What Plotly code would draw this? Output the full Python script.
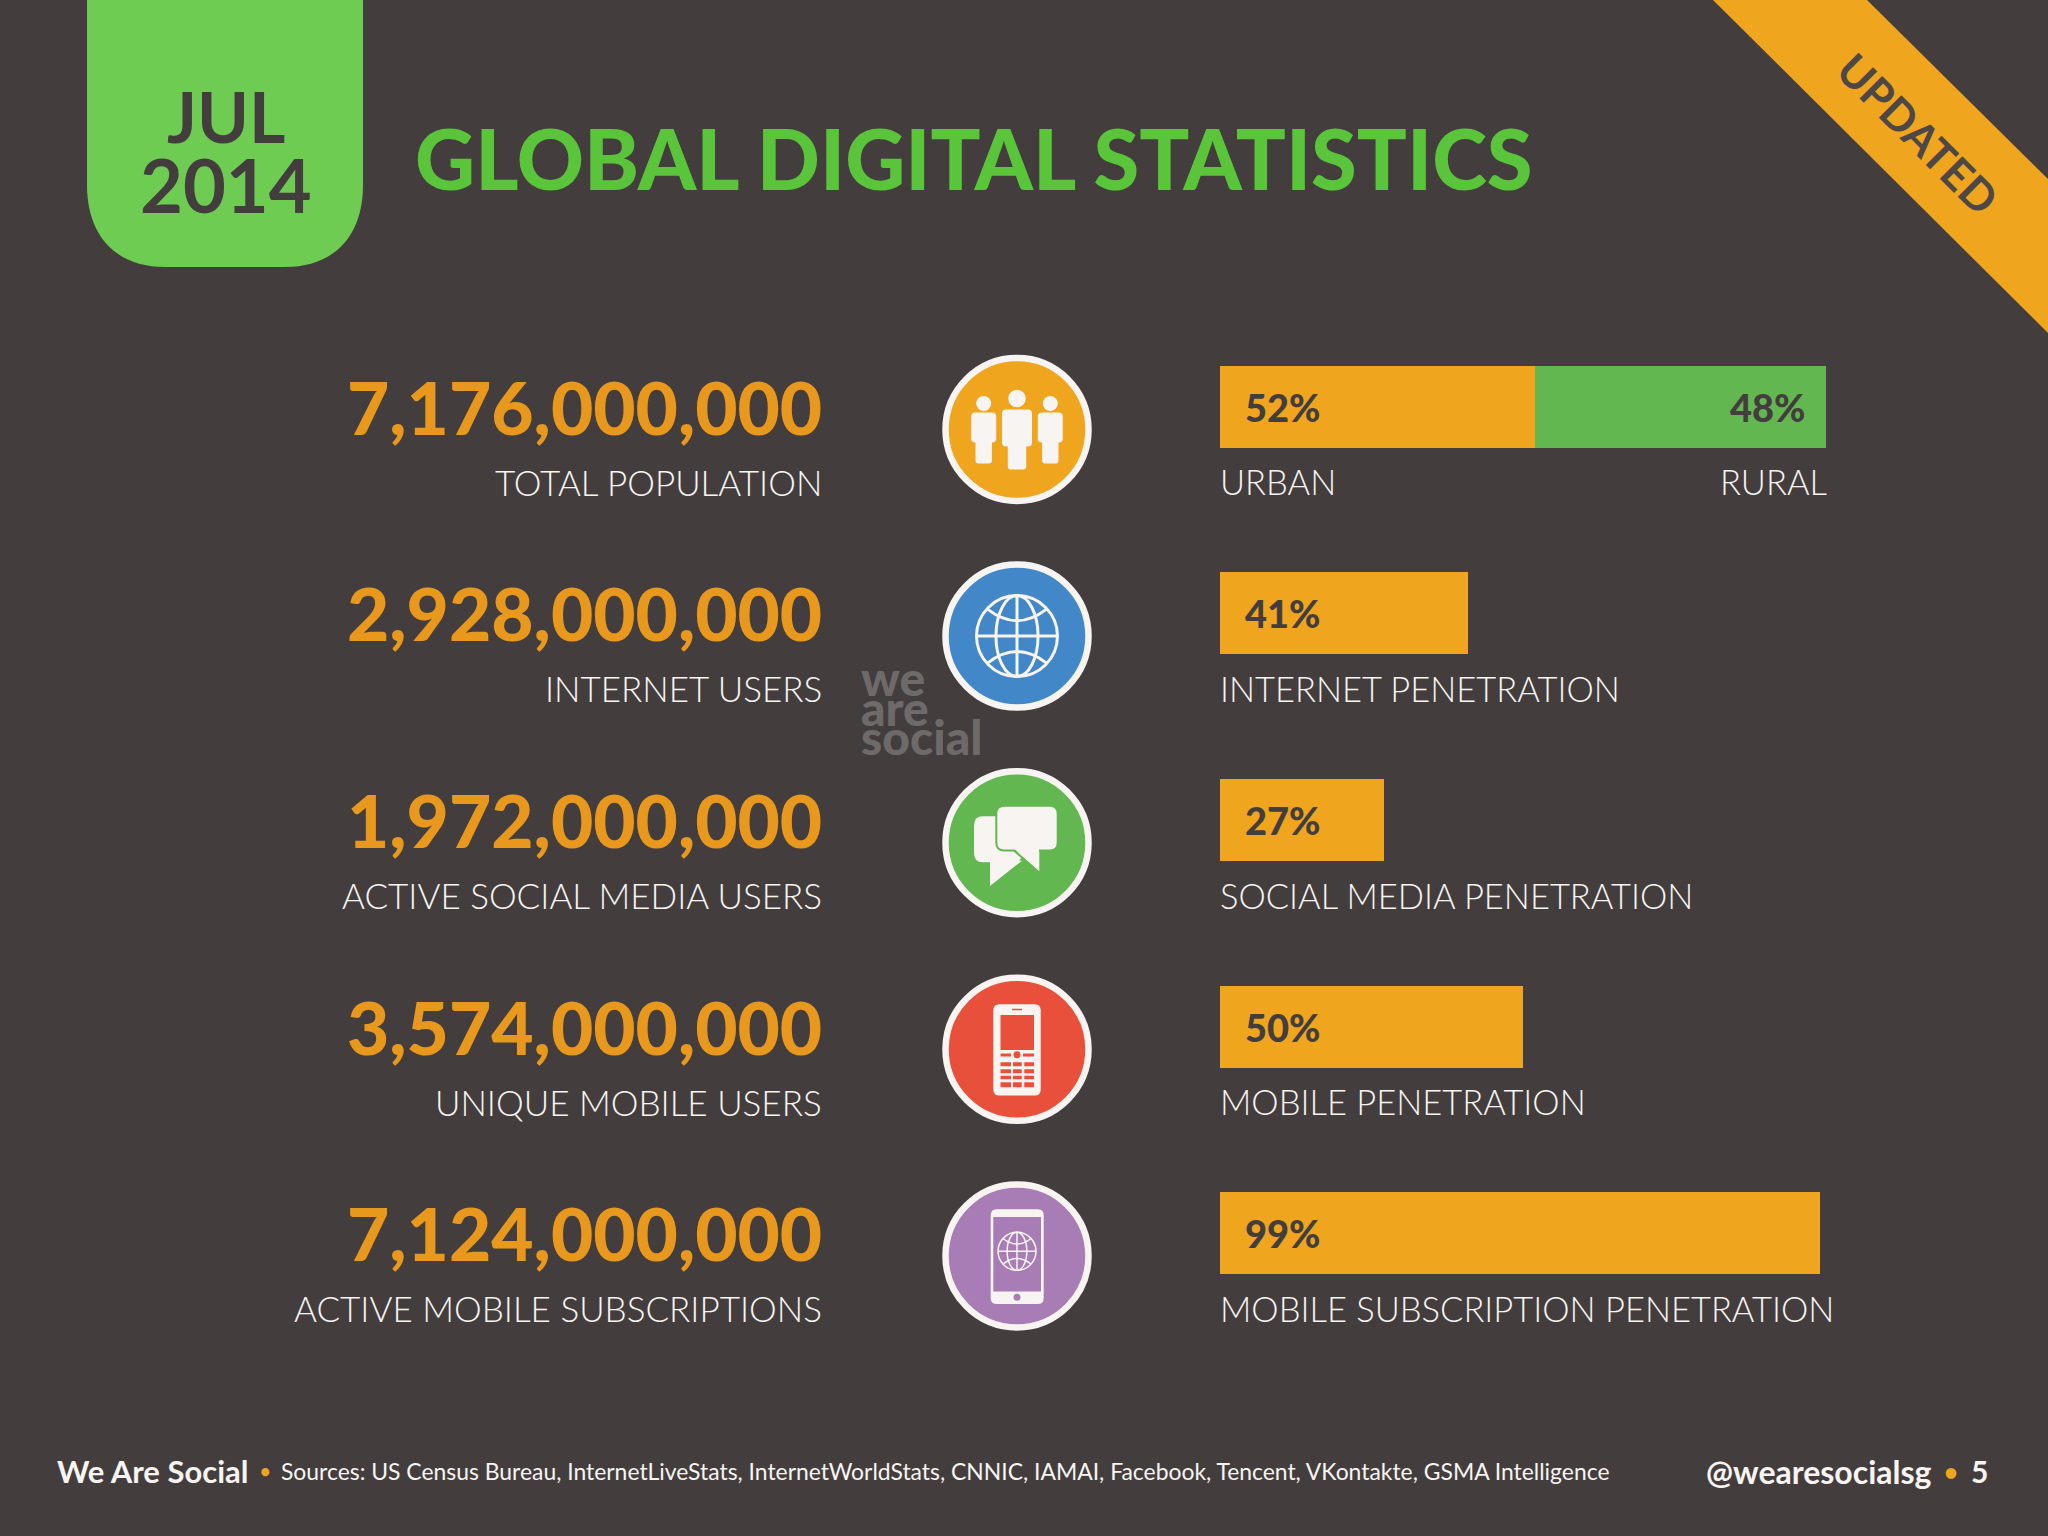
#
# Global digital statistics slide
#
import plotly.graph_objects as go

rows = ["population", "internet", "social", "mobile", "subscriptions"]
big_numbers = ["7,176,000,000", "2,928,000,000", "1,972,000,000", "3,574,000,000", "7,124,000,000"]
left_labels = ["TOTAL POPULATION", "INTERNET USERS", "ACTIVE SOCIAL MEDIA USERS",
               "UNIQUE MOBILE USERS", "ACTIVE MOBILE SUBSCRIPTIONS"]
right_labels = ["URBAN", "INTERNET PENETRATION", "SOCIAL MEDIA PENETRATION",
                "MOBILE PENETRATION", "MOBILE SUBSCRIPTION PENETRATION"]
main_pct = [52, 41, 27, 50, 99]
rural_pct = [48, None, None, None, None]
sources = ("Sources: US Census Bureau, InternetLiveStats, InternetWorldStats, CNNIC, IAMAI, "
           "Facebook, Tencent, VKontakte, GSMA Intelligence")

BG = "#433E3D"
ORANGE = "#F0A51F"
NUM_ORANGE = "#E8981D"
GREEN = "#63B750"
WHITE = "#F7F4F2"
ICON_COLORS = [ORANGE, "#4287C8", GREEN, "#E9503C", "#A87DB5"]

W, H = 2048, 1536
PITCH = 206.6
ROW_TOP = 303.5
CIRCLE_X = 1017
CIRCLE_Y0 = 429.5
CIRCLE_YS = [CIRCLE_Y0 + PITCH * i for i in range(len(rows))]

shapes = []
annotations = []


def text(x, y, s, size, color, anchor="left", weight=400, family="Lato", angle=0, xref="x2", yref="y2", yshift=0, xshift=0):
    annotations.append(dict(x=x, y=y, text=s, xref=xref, yref=yref, showarrow=False, xanchor=anchor,
                            yanchor="middle", textangle=angle, yshift=yshift, xshift=xshift,
                            font=dict(family=family, size=size, color=color, weight=weight)))


def path(d, fill=WHITE, line=None, lw=0):
    shapes.append(dict(type="path", path=d, xref="x2", yref="y2", fillcolor=fill,
                       line=dict(color=line or "rgba(0,0,0,0)", width=lw)))


def rrect(x0, y0, x1, y1, r=3, fill=WHITE, line=None, lw=0):
    d = (f"M{x0+r},{y0} L{x1-r},{y0} Q{x1},{y0} {x1},{y0+r} L{x1},{y1-r} Q{x1},{y1} {x1-r},{y1} "
         f"L{x0+r},{y1} Q{x0},{y1} {x0},{y1-r} L{x0},{y0+r} Q{x0},{y0} {x0+r},{y0} Z")
    path(d, fill, line, lw)


def circle(cx, cy, r, fill=WHITE, line=None, lw=0):
    shapes.append(dict(type="circle", xref="x2", yref="y2", x0=cx-r, x1=cx+r, y0=cy-r, y1=cy+r,
                       fillcolor=fill, line=dict(color=line or "rgba(0,0,0,0)", width=lw)))


def person(cx, cy, dx, head_y, head_r, w, body_top, body_bot, leg_w, leg_bot):
    circle(cx+dx, cy+head_y, head_r)
    rrect(cx+dx-w, cy+body_top, cx+dx+w, cy+body_bot, 4)
    rrect(cx+dx-leg_w, cy+body_bot-6, cx+dx+leg_w, cy+leg_bot, 3)


def globe(cx, cy, r, lw):
    none = "rgba(0,0,0,0)"
    circle(cx, cy, r, none, WHITE, lw)
    circle_rx = r * 0.52
    shapes.append(dict(type="circle", xref="x2", yref="y2", x0=cx-circle_rx, x1=cx+circle_rx, y0=cy-r, y1=cy+r,
                       fillcolor=none, line=dict(color=WHITE, width=lw)))
    path(f"M{cx},{cy-r} L{cx},{cy+r}", none, WHITE, lw)
    path(f"M{cx-r},{cy} L{cx+r},{cy}", none, WHITE, lw)
    path(f"M{cx-r*0.72},{cy-r*0.66} Q{cx},{cy-r*0.1} {cx+r*0.72},{cy-r*0.66}", none, WHITE, lw)
    path(f"M{cx-r*0.72},{cy+r*0.66} Q{cx},{cy+r*0.1} {cx+r*0.72},{cy+r*0.66}", none, WHITE, lw)


# badge and ribbon
path("M87,0 L363,0 L363,185 C363,235 335,267 285,267 L165,267 C115,267 87,235 87,185 Z", "#6ECC52")
path("M1713,0 L1867,0 L2048,179 L2048,333 Z", ORANGE)
text(226, 116, "JUL", 70, BG, "center", 700)
text(226, 184, "2014", 74, BG, "center", 700)
text(413, 158, "GLOBAL DIGITAL STATISTICS", 83, "#5AC43A", "left", 900)
text(1918, 133, "UPDATED", 44, "#4D4745", "center", 700, angle=45)

# icons
cy = CIRCLE_YS[0]
person(CIRCLE_X, cy, 0, -31, 8.8, 15, -20, 17, 9.2, 40)
person(CIRCLE_X, cy, -33.3, -26, 7.5, 12.5, -17, 13, 8.2, 34)
person(CIRCLE_X, cy, 33.3, -26, 7.5, 12.5, -17, 13, 8.2, 34)

globe(CIRCLE_X, CIRCLE_YS[1], 40.5, 3)

cy = CIRCLE_YS[2]
rrect(CIRCLE_X-43, cy-26.4, CIRCLE_X+5, cy+19.5, 9)
path(f"M{CIRCLE_X-27},{cy+15} L{CIRCLE_X-27},{cy+43.3} L{CIRCLE_X+5},{cy+18} Z")
path(f"M{CIRCLE_X-3},{cy+7.7} L{CIRCLE_X+23.3},{cy+30.6} L{CIRCLE_X+23.3},{cy+5} Z", WHITE, GREEN, 2)
rrect(CIRCLE_X-20.7, cy-37, CIRCLE_X+40.7, cy+7.7, 8, WHITE, GREEN, 2)
path(f"M{CIRCLE_X-4},{cy+5} L{CIRCLE_X+22},{cy+5} L{CIRCLE_X+22},{cy+28} Z")

cy = CIRCLE_YS[3]
red = ICON_COLORS[3]
rrect(CIRCLE_X-23.7, cy-45, CIRCLE_X+23.7, cy+46.3, 6)
rrect(CIRCLE_X-16.5, cy-34.4, CIRCLE_X+17, cy+0.8, 0, red)
rrect(CIRCLE_X-5, cy-40.5, CIRCLE_X+5, cy-39, 0, red)
rrect(CIRCLE_X-16.5, cy+4.2, CIRCLE_X-6, cy+7.3, 0, red)
rrect(CIRCLE_X+6, cy+4.2, CIRCLE_X+17, cy+7.3, 0, red)
circle(CIRCLE_X, cy+5.5, 3.5, red)
for top, bot in [(13, 17), (20, 24), (26.5, 30), (33, 38)]:
    for left, right in [(-16.5, -6), (-4, 4.7), (7.3, 17)]:
        rrect(CIRCLE_X+left, cy+top, CIRCLE_X+right, cy+bot, 0, red)

cy = CIRCLE_YS[4]
rrect(CIRCLE_X-26.3, cy-46.7, CIRCLE_X+26.7, cy+48, 6)
rrect(CIRCLE_X-23.7, cy-39, CIRCLE_X+24, cy+35.6, 0, ICON_COLORS[4])
circle(CIRCLE_X, cy+41.3, 3.5, ICON_COLORS[4])
globe(CIRCLE_X, cy-4.6, 19, 1.5)

# watermark
text(859, 677, "we", 48, "#6D6A69", "left", 900)
text(859, 707, "are", 48, "#6D6A69", "left", 900)
text(859, 736, "social", 48, "#6D6A69", "left", 900)

# row text
for i, r in enumerate(rows):
    text(824, r, big_numbers[i], 73, NUM_ORANGE, "right", 900, yref="y")
    text(824, r, left_labels[i], 35, WHITE, "right", 300, yref="y", yshift=-75)
    text(1218, r, right_labels[i], 34.5, WHITE, "left", 300, yref="y", yshift=-75)
    text(0, r, f"{main_pct[i]}%", 38, BG, "left", 900, xref="x", yref="y", xshift=23)
text(100, rows[0], f"{rural_pct[0]}%", 38, BG, "right", 900, xref="x", yref="y", xshift=-18)
text(1829, rows[0], "RURAL", 34.5, WHITE, "right", 300, yref="y", yshift=-75)

# footer
text(55, 1471, "We Are Social", 31, WHITE, "left", 700)
text(265, 1471, "\u2022", 18, ORANGE, "center", 700)
text(279, 1471, sources, 22.9, WHITE, "left", 400)
text(1704, 1471, "@wearesocialsg", 32, WHITE, "left", 700)
text(1951, 1471, "\u2022", 24, ORANGE, "center", 700)
text(1969, 1471, "5", 30, WHITE, "left", 700)

fig = go.Figure()
fig.add_trace(go.Bar(y=rows, x=main_pct, orientation="h", marker=dict(color=ORANGE, line_width=0), hoverinfo="skip"))
fig.add_trace(go.Bar(y=rows, x=rural_pct, orientation="h", marker=dict(color=GREEN, line_width=0), hoverinfo="skip"))
fig.add_trace(go.Scatter(x=[CIRCLE_X] * len(rows), y=CIRCLE_YS, xaxis="x2", yaxis="y2", mode="markers",
                         marker=dict(size=143, color=ICON_COLORS, line=dict(color=WHITE, width=6.5)), hoverinfo="skip"))

fig.update_layout(
    width=W, height=H,
    margin=dict(l=0, r=0, t=0, b=0),
    paper_bgcolor=BG, plot_bgcolor="rgba(0,0,0,0)",
    showlegend=False,
    barmode="stack", bargap=0.603,
    xaxis=dict(domain=[1220 / W, 1826 / W], range=[0, 100], visible=False, fixedrange=True),
    yaxis=dict(domain=[1 - (ROW_TOP + PITCH * 5) / H, 1 - ROW_TOP / H], categoryorder="array", categoryarray=rows,
               range=[4.5, -0.5], visible=False, fixedrange=True),
    xaxis2=dict(domain=[0, 1], range=[0, W], visible=False, fixedrange=True, anchor="y2"),
    yaxis2=dict(domain=[0, 1], range=[H, 0], visible=False, fixedrange=True, anchor="x2"),
    shapes=shapes,
    annotations=annotations,
)

fig.write_html("out.html", config=dict(displayModeBar=False),
               post_script="document.body.style.margin='0';document.body.style.background='%s';" % BG)
